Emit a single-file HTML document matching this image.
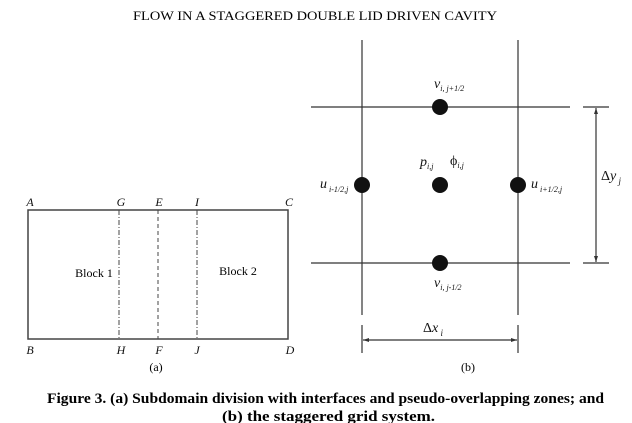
<!DOCTYPE html>
<html><head><meta charset="utf-8"><style>
html,body{margin:0;padding:0;background:#fff;}
svg{display:block;font-family:"Liberation Serif",serif;}
</style></head><body>
<svg width="632" height="423" viewBox="0 0 632 423">
<text x="133" y="20" font-size="12.5" textLength="364" lengthAdjust="spacingAndGlyphs">FLOW IN A STAGGERED DOUBLE LID DRIVEN CAVITY</text>
<g stroke="#444" fill="none">
<rect x="28" y="210" width="260" height="129" stroke-width="1.5"/>
<line x1="119" y1="210" x2="119" y2="339" stroke-dasharray="5,2,1,2"/>
<line x1="158" y1="210" x2="158" y2="339" stroke-dasharray="4,3"/>
<line x1="197" y1="210" x2="197" y2="339" stroke-dasharray="5,2,1,2"/>
</g>
<g font-size="12" font-style="italic" fill="#111" text-anchor="middle">
<text x="30" y="206">A</text><text x="121" y="206">G</text><text x="159" y="206">E</text><text x="197" y="206">I</text><text x="289" y="206">C</text>
<text x="30" y="354">B</text><text x="121" y="354">H</text><text x="159" y="354">F</text><text x="197" y="354">J</text><text x="290" y="354">D</text>
</g>
<text x="94" y="277" font-size="12" text-anchor="middle">Block 1</text>
<text x="238" y="275" font-size="12" text-anchor="middle">Block 2</text>
<text x="156" y="371" font-size="12" text-anchor="middle">(a)</text>

<g stroke="#333" stroke-width="1.2">
<line x1="362" y1="40" x2="362" y2="315"/><line x1="518" y1="40" x2="518" y2="315"/>
<line x1="362" y1="325" x2="362" y2="353"/><line x1="518" y1="325" x2="518" y2="353"/>
<line x1="311" y1="107" x2="570" y2="107"/><line x1="311" y1="263" x2="570" y2="263"/>
<line x1="583" y1="107" x2="609" y2="107"/><line x1="583" y1="263" x2="609" y2="263"/>
<line x1="596" y1="108" x2="596" y2="262"/>
<line x1="363" y1="340" x2="517" y2="340"/>
</g>
<g fill="#333">
<path d="M596,108 l-2,6 h4z M596,262 l-2,-6 h4z"/>
<path d="M363,340 l6,-2 v4z M517,340 l-6,-2 v4z"/>
</g>
<g fill="#111">
<circle cx="440" cy="107" r="8"/><circle cx="362" cy="185" r="8"/><circle cx="440" cy="185" r="8"/><circle cx="518" cy="185" r="8"/><circle cx="440" cy="263" r="8"/>
</g>
<g font-style="italic" fill="#111" font-size="14">
<text x="434" y="88">v<tspan font-size="8" dy="3">i, j+1/2</tspan></text>
<text x="434" y="287">v<tspan font-size="8" dy="3">i, j-1/2</tspan></text>
<text x="320" y="188">u<tspan font-size="8" dy="4"> i-1/2,j</tspan></text>
<text x="531" y="188">u<tspan font-size="8" dy="4"> i+1/2,j</tspan></text>
<text x="420" y="166">p<tspan font-size="8" dy="3">i,j</tspan></text>
<text x="450" y="165" font-style="normal">ϕ<tspan font-size="8" font-style="italic" dy="3">i,j</tspan></text>
<text x="601" y="180" font-style="normal">Δ<tspan font-style="italic">y</tspan><tspan font-size="9" font-style="italic" dy="4"> j</tspan></text>
<text x="423" y="332" font-style="normal">Δ<tspan font-style="italic">x</tspan><tspan font-size="9" font-style="italic" dy="4"> i</tspan></text>
</g>
<text x="468" y="371" font-size="12" text-anchor="middle">(b)</text>
<text x="47" y="403" font-size="15" font-weight="bold" textLength="557" lengthAdjust="spacingAndGlyphs">Figure 3. (a) Subdomain division with interfaces and pseudo-overlapping zones; and</text>
<text x="222" y="421" font-size="15" font-weight="bold" textLength="213" lengthAdjust="spacingAndGlyphs">(b) the staggered grid system.</text>
</svg>
</body></html>
